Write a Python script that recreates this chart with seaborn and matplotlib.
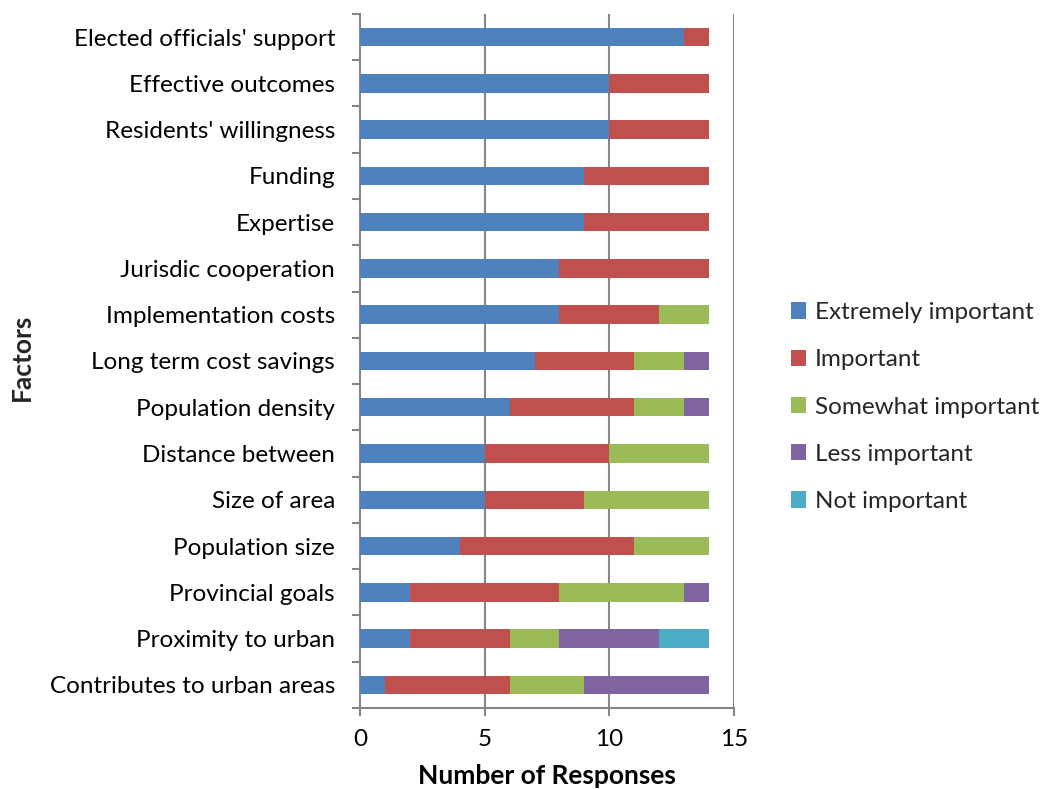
import numpy as np
import pandas as pd
import matplotlib
matplotlib.use("Agg")
import matplotlib.pyplot as plt
from matplotlib.patches import Patch
import seaborn as sns

factors = [
    "Elected officials' support",
    "Effective outcomes",
    "Residents' willingness",
    "Funding",
    "Expertise",
    "Jurisdic cooperation",
    "Implementation costs",
    "Long term cost savings",
    "Population density",
    "Distance between",
    "Size of area",
    "Population size",
    "Provincial goals",
    "Proximity to urban",
    "Contributes to urban areas",
]

extremely_important = [13, 10, 10, 9, 9, 8, 8, 7, 6, 5, 5, 4, 2, 2, 1]
important = [1, 4, 4, 5, 5, 6, 4, 4, 5, 5, 4, 7, 6, 4, 5]
somewhat_important = [0, 0, 0, 0, 0, 0, 2, 2, 2, 4, 5, 3, 5, 2, 3]
less_important = [0, 0, 0, 0, 0, 0, 0, 1, 1, 0, 0, 0, 1, 4, 5]
not_important = [0, 0, 0, 0, 0, 0, 0, 0, 0, 0, 0, 0, 0, 2, 0]

levels = ["Extremely important", "Important", "Somewhat important",
          "Less important", "Not important"]
colors = ["#4F81BD", "#C0504D", "#9BBB59", "#8064A2", "#4BACC6"]

sns.set_theme(style="white")
plt.rcParams["font.family"] = ["Lato", "DejaVu Sans"]

df = pd.DataFrame({
    "Factor": factors,
    levels[0]: extremely_important,
    levels[1]: important,
    levels[2]: somewhat_important,
    levels[3]: less_important,
    levels[4]: not_important,
})
cum = df[levels].cumsum(axis=1)
cum["Factor"] = df["Factor"]

fig = plt.figure(figsize=(10.45, 7.89), dpi=100)
ax = fig.add_axes([0.3445, 0.1027, 0.3579, 0.8796])

# stacked bars: draw cumulative totals from the outermost segment inward
for lvl, col in reversed(list(zip(levels, colors))):
    sns.barplot(data=cum, y="Factor", x=lvl, order=factors, color=col,
                orient="h", width=0.4, saturation=1, linewidth=0,
                edgecolor="none", ax=ax, zorder=3)

ax.set_xlim(0, 15)
ax.set_ylim(len(factors) - 0.5, -0.5)
ax.set_xticks([0, 5, 10, 15])
ax.set_yticks(np.arange(len(factors)))
ax.set_yticklabels(factors)

grid_col = "#868686"
for xv in [5, 10, 15]:
    ax.axvline(xv, color=grid_col, lw=1.5, zorder=1)

for s in ["top", "right"]:
    ax.spines[s].set_visible(False)
for s in ["left", "bottom"]:
    ax.spines[s].set_color(grid_col)
    ax.spines[s].set_linewidth(1.5)

# category tick marks sit between the bars
ax.set_yticks(np.arange(len(factors) + 1) - 0.5, minor=True)
ax.tick_params(axis="y", which="major", length=0, pad=18, labelsize=17.5,
               labelcolor="black")
ax.tick_params(axis="y", which="minor", length=6, width=1.5, color=grid_col,
               direction="out", left=True)
ax.tick_params(axis="x", which="major", length=6, width=1.5, color=grid_col,
               direction="out", bottom=True, labelsize=17.5, pad=9,
               labelcolor="black")

ax.set_xlabel("Number of Responses", fontsize=19, fontweight="bold",
              labelpad=10, color="black")
ax.set_ylabel("")
fig.text(0.021, 0.547, "Factors", rotation=90, fontsize=19, fontweight="bold",
         va="center", ha="center")

handles = [Patch(facecolor=c, edgecolor="none", label=l)
           for l, c in zip(levels, colors)]
fig.legend(handles=handles, loc="center left", bbox_to_anchor=(0.745, 0.484),
           frameon=False, fontsize=17.5, handlelength=0.65, handleheight=0.65,
           handletextpad=0.35, labelspacing=1.08, borderpad=0)

fig.savefig("out.png", dpi=100)
